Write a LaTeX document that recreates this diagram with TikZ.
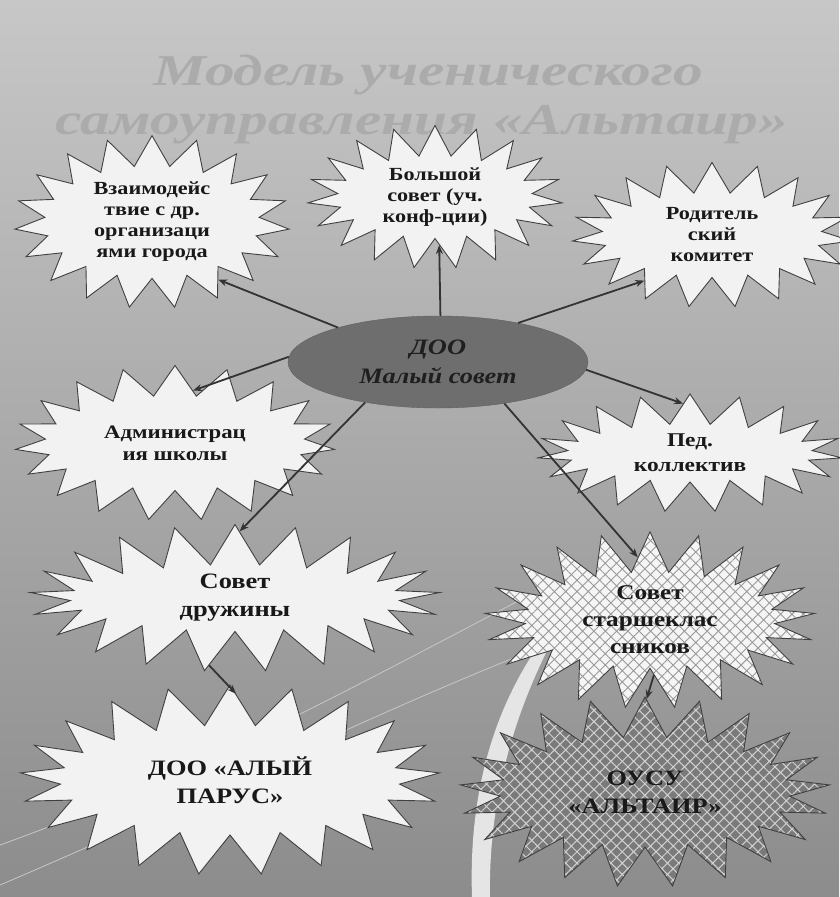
\documentclass[tikz,border=0pt]{standalone}
\usepackage{fontspec}
\setmainfont[FakeStretch=1.2]{Liberation Serif}
\newfontfamily\titlefont[FakeStretch=1.35]{Liberation Serif}
\usetikzlibrary{shapes.symbols,shapes.geometric,arrows.meta,patterns.meta}

\begin{document}
\begin{tikzpicture}
[x=1pt,y=-1pt,
  stardecorate/.style={shape=starburst,draw=black!75,line width=0.9pt,fill=black!5,
    starburst points=19,starburst point height=30pt,random starburst=0,
    align=center,inner sep=0pt,
    text=black!90,font=\bfseries\fontsize{18.5}{21}\selectfont},%
  bigstar/.style={stardecorate,starburst points=21,starburst point height=40pt,
    font=\bfseries\fontsize{22}{28}\selectfont},%
  lighthatch/.style={preaction={fill=black!4},
    pattern={Hatch[angle=45,distance=8pt,line width=0.9pt]},pattern color=black!40},%
  darkhatch/.style={preaction={fill=black!52},
    pattern={Hatch[angle=45,distance=8pt,line width=1pt]},pattern color=black!18},%
  linedecorate/.style={-{Stealth[length=9pt,width=7pt]},line width=1.8pt,draw=black!80},%
  titledecorate/.style={inner sep=0pt,text=black!33,
    font=\titlefont\bfseries\itshape\fontsize{44}{44}\selectfont}]
%% background
\useasboundingbox (0,0) rectangle (839,897);
\shade[top color=black!22,bottom color=black!45] (0,0) rectangle (839,897);
\fill[white!90!black] (575,600) .. controls (500,680) and (468,780) .. (472,897)
  -- (490,897) .. controls (488,790) and (520,690) .. (575,600);
\draw[white!78!black,line width=0.8pt] (0,885) .. controls (200,800) and (400,700) .. (560,640);
\draw[white!78!black,line width=0.8pt] (0,845) .. controls (180,780) and (330,700) .. (520,600);
%% title
\node (titlea) at (428,75) [titledecorate] {Модель ученического};
\node (titleb) at (422,125) [titledecorate] {самоуправления «Альтаир»};
%% nodes
\node (vz) at (152,222) [stardecorate,minimum width=275pt,minimum height=165pt]
  {Взаимодейс\\твие с др.\\организаци\\ями города};
\node (bs) at (435,197) [stardecorate,minimum width=255pt,minimum height=138pt]
  {Большой\\совет (уч.\\конф-ции)};
\node (rk) at (712,235) [stardecorate,minimum width=280pt,minimum height=145pt]
  {Родитель\\ский\\комитет};
\node (adm) at (175,443) [stardecorate,minimum width=320pt,minimum height=155pt,
  font=\bfseries\fontsize{19}{22}\selectfont] {Администрац\\ия школы};
\node (ped) at (690,453) [stardecorate,minimum width=305pt,minimum height=118pt,
  font=\bfseries\fontsize{19.5}{25}\selectfont] {Пед.\\коллектив};
\node (sd) at (235,598) [bigstar,minimum width=410pt,minimum height=135pt]
  {Совет\\дружины};
\node (ss) at (650,620) [bigstar,lighthatch,minimum width=330pt,minimum height=135pt,
  font=\bfseries\fontsize{21}{27}\selectfont] {Совет\\старшеклас\\сников};
\node (ap) at (230,780) [bigstar,minimum width=420pt,minimum height=190pt]
  {ДОО «АЛЫЙ\\ПАРУС»};
\node (ou) at (645,792) [bigstar,darkhatch,minimum width=370pt,minimum height=190pt]
  {ОУСУ\\«АЛЬТАИР»};
\node (doo) at (438,362) [ellipse,fill=black!57,draw=black!62,minimum width=300pt,
  minimum height=92pt,align=center,text=black!88,
  font=\bfseries\itshape\fontsize{22}{29}\selectfont] {ДОО\\Малый совет};
%% arrows
\path
\foreach \startnode/\endnode in {doo.161/vz.-41, doo.87/bs.-85, doo.26/rk.214,
  doo.178/adm.71, doo.-3/ped.98, doo.209/sd.86, doo.-32/ss.101,
  sd.-111/ap.86, ss.-86/ou.89} {
  (\startnode) edge[linedecorate] (\endnode)
};
\end{tikzpicture}
\end{document}
